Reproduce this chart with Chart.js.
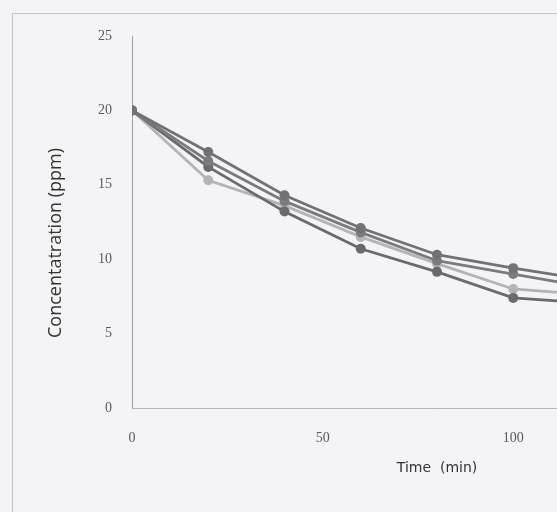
<!DOCTYPE html>
<html lang="en">
<head>
    <meta charset="UTF-8">
    <title>Concentration vs time</title>
    <script src="https://cdn.jsdelivr.net/npm/chart.js"></script>
    <style>
        html, body { margin: 0; padding: 0; overflow: hidden; background: #f4f4f6; width: 557px; height: 512px; }
        #frame { position: absolute; left: 12px; top: 13px; width: 700px; height: 600px; border: 1px solid #c6c6c8; }
        #chart { position: absolute; left: 0; top: 0; }
    </style>
</head>
<body>
<div id="frame"></div>
<canvas id="chart" width="760" height="512"></canvas>

<script>
    // sampling times (min)
    const times = [0, 20, 40, 60, 80, 100, 120];

    // concentration (ppm) per run
    const run1 = [20, 17.2, 14.3, 12.1, 10.3, 9.4, 8.6];
    const run2 = [20, 16.6, 13.9, 11.8, 9.9, 9.0, 8.1];
    const run3 = [20, 16.2, 13.2, 10.7, 9.15, 7.4, 7.05];
    const run4 = [20, 15.3, 13.6, 11.5, 9.7, 8.0, 7.6];

    const yTicks = [0, 5, 10, 15, 20, 25];
    const xTicks = [0, 50, 100];

    const runs = [
        { data: run1, color: '#727274' },
        { data: run2, color: '#7b7b7d' },
        { data: run3, color: '#6a6a6c' },
        { data: run4, color: '#b4b4b6' }
    ];

    function toPoints(values) {
        return times.map((t, i) => ({ x: t, y: values[i] }));
    }

    // y title drawn by hand so it can sit where the original has it
    const yTitle = {
        id: 'yTitle',
        afterDraw(chart) {
            const ctx = chart.ctx;
            ctx.save();
            ctx.translate(56, 243);
            ctx.rotate(-Math.PI / 2);
            ctx.font = '18px "Open Sans"';
            ctx.fillStyle = '#333';
            ctx.textAlign = 'center';
            ctx.textBaseline = 'middle';
            ctx.fillText('Concentatration (ppm)', 0, 0);
            ctx.restore();
        }
    };

    new Chart(document.getElementById('chart').getContext('2d'), {
        type: 'line',
        data: {
            datasets: runs.map(r => ({
                data: toPoints(r.data),
                borderColor: r.color,
                backgroundColor: r.color,
                pointBackgroundColor: r.color,
                pointBorderWidth: 0,
                pointRadius: 5,
                borderWidth: 2.8,
                tension: 0,
                fill: false
            }))
        },
        options: {
            responsive: false,
            animation: false,
            layout: { padding: { top: 36, right: 18, left: 0, bottom: 0 } },
            plugins: { legend: { display: false }, tooltip: { enabled: false } },
            scales: {
                x: {
                    type: 'linear',
                    min: 0,
                    max: 160,
                    afterFit: s => { s.height = 104; },
                    afterBuildTicks: s => { s.ticks = xTicks.map(v => ({ value: v })); },
                    grid: { display: false, drawTicks: false },
                    border: { color: '#b8b8ba', width: 1 },
                    ticks: {
                        padding: 22,
                        color: '#5a5a5a',
                        font: { family: '"Liberation Serif"', size: 14 }
                    },
                    title: {
                        display: true,
                        text: 'Time  (min)',
                        color: '#333',
                        font: { family: '"DejaVu Sans"', size: 14 },
                        padding: { top: 0, bottom: 35 }
                    }
                },
                y: {
                    min: 0,
                    max: 25,
                    afterFit: s => { s.width = 132; },
                    afterBuildTicks: s => { s.ticks = yTicks.map(v => ({ value: v })); },
                    grid: { display: false, drawTicks: false },
                    border: { color: '#a0a0a2', width: 1, dash: [1, 1] },
                    ticks: {
                        padding: 20,
                        color: '#5a5a5a',
                        font: { family: '"Liberation Serif"', size: 14 }
                    }
                }
            }
        },
        plugins: [yTitle]
    });
</script>
</body>
</html>
